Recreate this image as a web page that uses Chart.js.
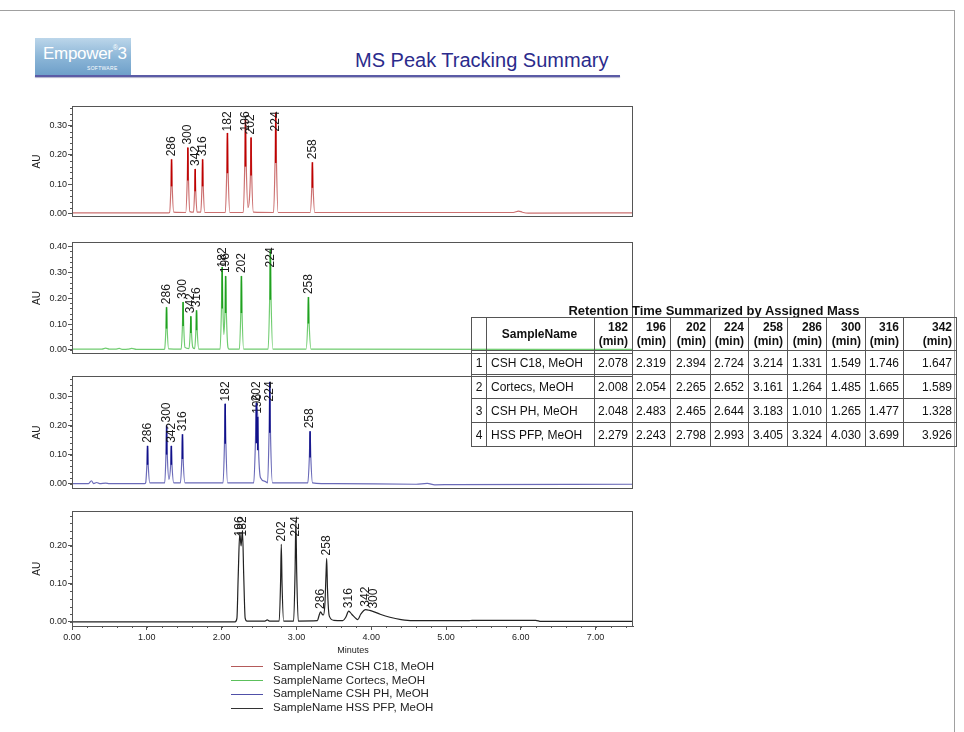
<!DOCTYPE html>
<html>
<head>
<meta charset="utf-8">
<script src="https://cdn.jsdelivr.net/npm/chart.js@4.4.0/dist/chart.umd.min.js"></script>
<style>
  body { margin: 0; background: #fff; font-family: Arial, "Liberation Sans", sans-serif; }
  #page { position: relative; width: 964px; height: 732px; overflow: hidden; }
  #frame { position: absolute; left: -2px; top: 10px; width: 956px; height: 740px;
           border-top: 1px solid #a0a0a0; border-right: 1px solid #a0a0a0; }
  #logo { position: absolute; left: 35px; top: 38px; width: 96px; height: 37px;
          background: linear-gradient(180deg, #bcd6ea 0%, #8db7d8 50%, #6e9fc9 100%); color: #fff; }
  #logo .emp { position: absolute; left: 8px; top: 6px; font-size: 17px; letter-spacing: -0.3px; }
  #logo .emp sup { font-size: 7px; vertical-align: 9px; }
  #logo .soft { position: absolute; left: 52px; top: 27px; font-size: 5px; letter-spacing: 0.3px; }
  #title { position: absolute; left: 355px; top: 49px; font-size: 20px; color: #2b2b8c; white-space: nowrap; }
  #rule { position: absolute; left: 35px; top: 75px; width: 585px; height: 2px; background: #5b5ba6;
          box-shadow: 0 1px 1px #b0b0c8; }
  .panel { position: absolute; left: 31px; }
  #minutes { position: absolute; left: 323px; width: 60px; top: 645px; text-align: center; font-size: 9px; color: #222; }
  #legend { position: absolute; left: 231px; top: 660px; font-size: 11.5px; color: #222; }
  #legend div { height: 13.7px; line-height: 13.7px; white-space: nowrap; }
  #legend span.ln { display: inline-block; width: 32px; height: 1px; vertical-align: middle; margin-right: 10px; }
  #tabTitle { position: absolute; left: 471px; width: 486px; top: 303px; text-align: center;
              font-size: 13px; font-weight: bold; color: #111; }
  #rt { position: absolute; left: 471px; top: 317px; border-collapse: collapse; table-layout: fixed;
        width: 486px; font-size: 12px; color: #111; }
  #rt td, #rt th { border: 1px solid #555; padding: 0 4px 0 2px; overflow: hidden; white-space: nowrap; }
  #rt th { height: 32px; font-weight: bold; text-align: right; line-height: 14px; }
  #rt td { height: 23px; text-align: right; }
  #rt td.idx, #rt th.idx { text-align: center; padding: 0; }
  #rt td.name { text-align: left; padding-left: 4px; }
  #rt th.name { text-align: center; }
</style>
</head>
<body>
<div id="page">
  <div id="frame"></div>
  <div id="logo"><span class="emp">Empower<sup>&reg;</sup>3</span><span class="soft">SOFTWARE</span></div>
  <div id="title">MS Peak Tracking Summary</div>
  <div id="rule"></div>

  <div class="panel" style="top:100px"><canvas id="c18" width="609" height="123"></canvas></div>
  <div class="panel" style="top:236px"><canvas id="cortecs" width="609" height="124"></canvas></div>
  <div class="panel" style="top:370px"><canvas id="cshph" width="609" height="125"></canvas></div>
  <div class="panel" style="top:505px"><canvas id="hsspfp" width="609" height="141"></canvas></div>
  <div id="minutes">Minutes</div>
  <div id="legend"></div>

  <div id="tabTitle">Retention Time Summarized by Assigned Mass</div>
  <table id="rt"></table>
</div>
<script>
// masses tracked, same order as the table columns
const masses = [182, 196, 202, 224, 258, 286, 300, 316, 342];
const sampleNames = ['CSH C18, MeOH', 'Cortecs, MeOH', 'CSH PH, MeOH', 'HSS PFP, MeOH'];

// retention times (min) per sample, in mass order
const rtC18     = [2.078, 2.319, 2.394, 2.724, 3.214, 1.331, 1.549, 1.746, 1.647];
const rtCortecs = [2.008, 2.054, 2.265, 2.652, 3.161, 1.264, 1.485, 1.665, 1.589];
const rtCshPh   = [2.048, 2.483, 2.465, 2.644, 3.183, 1.010, 1.265, 1.477, 1.328];
const rtHssPfp  = [2.279, 2.243, 2.798, 2.993, 3.405, 3.324, 4.030, 3.699, 3.926];

// peak apex heights (AU), in mass order
const apexC18     = [0.275, 0.32, 0.26, 0.345, 0.175, 0.185, 0.225, 0.185, 0.152];
const apexCortecs = [0.32, 0.285, 0.285, 0.387, 0.204, 0.165, 0.185, 0.153, 0.13];
const apexCshPh   = [0.275, 0.23, 0.278, 0.35, 0.18, 0.13, 0.2, 0.17, 0.13];
const apexHssPfp  = [0.24, 0.235, 0.204, 0.268, 0.167, 0.026, 0.027, 0.028, 0.032];

// chromatogram traces [min, AU]
const traceC18 = [
  [0.00, 0.002], [1.29, 0.002],
  [1.305, 0.003], [1.322, 0.09], [1.331, 0.185], [1.340, 0.09], [1.36, 0.004],
  [1.52, 0.003], [1.540, 0.11], [1.549, 0.225], [1.558, 0.11], [1.575, 0.006],
  [1.625, 0.004], [1.639, 0.075], [1.647, 0.152], [1.655, 0.075], [1.672, 0.004],
  [1.722, 0.004], [1.737, 0.09], [1.746, 0.185], [1.755, 0.09], [1.775, 0.003],
  [2.05, 0.003], [2.068, 0.135], [2.078, 0.275], [2.088, 0.135], [2.11, 0.003],
  [2.29, 0.003], [2.309, 0.16], [2.319, 0.32], [2.330, 0.16], [2.352, 0.02],
  [2.372, 0.05], [2.385, 0.13], [2.394, 0.26], [2.403, 0.13], [2.425, 0.004],
  [2.695, 0.003], [2.714, 0.17], [2.724, 0.345], [2.734, 0.17], [2.755, 0.003],
  [3.185, 0.003], [3.205, 0.085], [3.214, 0.175], [3.224, 0.085], [3.245, 0.003],
  [5.90, 0.003], [5.97, 0.008], [6.02, 0.004], [6.10, 0.001], [7.50, 0.002]
];
const traceCortecs = [
  [0.00, 0.003], [0.40, 0.003], [0.45, 0.007], [0.50, 0.003], [0.58, 0.003], [0.63, 0.006],
  [0.68, 0.002], [0.75, 0.003], [0.80, 0.006], [0.86, 0.002], [1.23, 0.002],
  [1.238, 0.003], [1.255, 0.08], [1.264, 0.165], [1.273, 0.08], [1.292, 0.004],
  [1.46, 0.003], [1.476, 0.09], [1.485, 0.185], [1.494, 0.09], [1.51, 0.01],
  [1.565, 0.005], [1.580, 0.065], [1.589, 0.13], [1.598, 0.065], [1.615, 0.01],
  [1.64, 0.005], [1.656, 0.075], [1.665, 0.153], [1.674, 0.075], [1.695, 0.003],
  [1.98, 0.003], [1.998, 0.16], [2.008, 0.32], [2.018, 0.16], [2.030, 0.06],
  [2.044, 0.14], [2.054, 0.285], [2.064, 0.14], [2.085, 0.01], [2.10, 0.003],
  [2.238, 0.003], [2.256, 0.14], [2.265, 0.285], [2.274, 0.14], [2.295, 0.003],
  [2.622, 0.003], [2.642, 0.19], [2.652, 0.387], [2.662, 0.19], [2.685, 0.003],
  [3.13, 0.003], [3.151, 0.1], [3.161, 0.204], [3.171, 0.1], [3.195, 0.003],
  [7.50, 0.002]
];
const traceCshPh = [
  [0.00, 0.0], [0.22, 0.0], [0.26, 0.01], [0.29, 0.0], [0.33, 0.004], [0.37, 0.0],
  [0.45, 0.002], [0.50, 0.0], [0.97, 0.0],
  [0.985, 0.003], [1.001, 0.065], [1.010, 0.13], [1.019, 0.065], [1.04, 0.003],
  [1.24, 0.003], [1.256, 0.1], [1.265, 0.2], [1.274, 0.1], [1.296, 0.015],
  [1.319, 0.065], [1.328, 0.13], [1.337, 0.065], [1.36, 0.003],
  [1.45, 0.003], [1.468, 0.085], [1.477, 0.17], [1.486, 0.085], [1.51, 0.003],
  [2.02, 0.003], [2.038, 0.135], [2.048, 0.275], [2.058, 0.135], [2.08, 0.003],
  [2.43, 0.003], [2.452, 0.14], [2.465, 0.278], [2.483, 0.23], [2.496, 0.1], [2.52, 0.02],
  [2.58, 0.008], [2.615, 0.003], [2.634, 0.17], [2.644, 0.35], [2.654, 0.17], [2.68, 0.003],
  [3.153, 0.003], [3.173, 0.09], [3.183, 0.18], [3.193, 0.09], [3.215, 0.003],
  [3.50, 0.0], [4.60, -0.002], [4.75, 0.001], [4.85, -0.004], [5.10, -0.003], [7.50, -0.002]
];
const traceHssPfp = [
  [0.00, 0.0], [2.18, 0.0], [2.205, 0.01], [2.222, 0.12], [2.243, 0.235], [2.26, 0.2],
  [2.279, 0.24], [2.296, 0.12], [2.315, 0.01], [2.34, 0.002],
  [2.58, 0.002], [2.61, 0.005], [2.64, 0.002],
  [2.77, 0.002], [2.788, 0.1], [2.798, 0.204], [2.808, 0.1], [2.83, 0.002],
  [2.963, 0.002], [2.982, 0.13], [2.993, 0.268], [3.004, 0.13], [3.025, 0.002],
  [3.28, 0.003], [3.305, 0.018], [3.324, 0.026], [3.345, 0.02], [3.36, 0.018],
  [3.382, 0.05], [3.395, 0.12], [3.405, 0.167], [3.415, 0.09], [3.44, 0.015],
  [3.50, 0.004], [3.62, 0.003], [3.66, 0.012], [3.699, 0.028], [3.74, 0.02], [3.80, 0.008],
  [3.82, 0.006], [3.86, 0.02], [3.926, 0.032], [3.98, 0.03], [4.03, 0.027], [4.12, 0.02],
  [4.25, 0.012], [4.40, 0.006], [4.55, 0.003], [5.30, 0.003], [5.35, 0.004], [6.20, 0.004],
  [6.27, 0.001], [7.50, 0.001]
];

const xTicks = [0, 1, 2, 3, 4, 5, 6, 7];
const yTicks3 = [0, 0.1, 0.2, 0.3];
const yTicks4 = [0, 0.1, 0.2, 0.3, 0.4];
const yTicks2 = [0, 0.1, 0.2];

const lineColors = ['#cc7070', '#70cc70', '#6a6ab8', '#222222'];
const markColors = ['#c00000', '#20a020', '#10108a', '#000000'];
const legendColors = ['#b45a5a', '#5cc05c', '#5050a8', '#333333'];

const FONT = 'Arial, "Liberation Sans", sans-serif';

// box round the plot area plus the small minor ticks
const framePlugin = {
  id: 'frame',
  afterDraw(chart, args, opts) {
    const { ctx, chartArea: a, scales: { x, y } } = chart;
    ctx.save();
    ctx.strokeStyle = '#555';
    ctx.lineWidth = 1;
    ctx.strokeRect(Math.round(a.left) + 0.5, Math.round(a.top) + 0.5,
                   Math.round(a.right - a.left) - 1, Math.round(a.bottom - a.top));
    ctx.beginPath();
    for (let i = 0; i * 0.02 <= y.max; i++) {
      const py = Math.round(y.getPixelForValue(i * 0.02)) + 0.5;
      ctx.moveTo(a.left - 2, py); ctx.lineTo(a.left, py);
    }
    if (opts.xMinor) {
      for (let i = 0; i * 0.2 <= x.max; i++) {
        const px = Math.round(x.getPixelForValue(i * 0.2)) + 0.5;
        ctx.moveTo(px, a.bottom); ctx.lineTo(px, a.bottom + 2);
      }
    }
    ctx.stroke();
    ctx.restore();
  }
};

// rotated mass labels over each peak, with a darker apex stroke
const peakLabelPlugin = {
  id: 'peakLabels',
  afterDatasetsDraw(chart, args, opts) {
    const { ctx, chartArea: a, scales: { x, y } } = chart;
    ctx.save();
    ctx.font = '12px ' + FONT;
    opts.times.forEach((t, i) => {
      const px = x.getPixelForValue(t);
      const top = y.getPixelForValue(opts.heights[i]);
      if (opts.mark) {
        ctx.strokeStyle = opts.mark;
        ctx.lineWidth = 1.6;
        ctx.beginPath();
        ctx.moveTo(px, top);
        ctx.lineTo(px, y.getPixelForValue(opts.heights[i] * 0.5));
        ctx.stroke();
      }
      const label = String(masses[i]);
      const w = ctx.measureText(label).width;
      const start = Math.max(top - 3, a.top + 5 + w);
      ctx.save();
      ctx.translate(px, start);
      ctx.rotate(-Math.PI / 2);
      ctx.fillStyle = '#1a1a1a';
      ctx.textAlign = 'left';
      ctx.textBaseline = 'middle';
      ctx.fillText(label, 0, 0);
      ctx.restore();
    });
    ctx.restore();
  }
};

function makePanel(id, trace, idx, rt, apex, yMin, yMax, yTicks, showX) {
  new Chart(document.getElementById(id), {
    type: 'line',
    data: {
      datasets: [{
        label: 'SampleName ' + sampleNames[idx],
        data: trace.map(p => ({ x: p[0], y: p[1] })),
        borderColor: lineColors[idx],
        borderWidth: 1.2,
        pointRadius: 0,
        cubicInterpolationMode: 'monotone',
        fill: false
      }]
    },
    options: {
      responsive: false,
      animation: false,
      devicePixelRatio: 1,
      layout: { padding: { top: 6, right: 7, bottom: showX ? 0 : 4, left: 0 } },
      plugins: {
        legend: { display: false },
        tooltip: { enabled: false },
        frame: { xMinor: showX },
        peakLabels: { times: rt, heights: apex, mark: idx < 3 ? markColors[idx] : null }
      },
      scales: {
        x: {
          type: 'linear', min: 0, max: 7.5, display: showX,
          afterBuildTicks: s => { s.ticks = xTicks.map(v => ({ value: v })); },
          afterFit: s => { s.height = showX ? 20 : 0; },
          grid: { drawOnChartArea: false, drawTicks: true, tickLength: 4, color: '#555' },
          border: { display: true, color: '#555' },
          ticks: { autoSkip: false, maxRotation: 0, padding: 2, color: '#222',
                   font: { size: 9, family: FONT }, callback: v => Number(v).toFixed(2) }
        },
        y: {
          type: 'linear', min: yMin, max: yMax,
          afterBuildTicks: s => { s.ticks = yTicks.map(v => ({ value: v })); },
          afterFit: s => { s.width = 41; },
          grid: { drawOnChartArea: false, drawTicks: true, tickLength: 4, color: '#555' },
          border: { display: true, color: '#555' },
          title: { display: true, text: 'AU', padding: 0, color: '#222', font: { size: 10, family: FONT } },
          ticks: { padding: 1, color: '#222', font: { size: 9, family: FONT },
                   callback: v => Number(v).toFixed(2) }
        }
      }
    },
    plugins: [framePlugin, peakLabelPlugin]
  });
}

makePanel('c18', traceC18, 0, rtC18, apexC18, -0.011, 0.366, yTicks3, false);
makePanel('cortecs', traceCortecs, 1, rtCortecs, apexCortecs, -0.014, 0.415, yTicks4, false);
makePanel('cshph', traceCshPh, 2, rtCshPh, apexCshPh, -0.017, 0.369, yTicks3, false);
makePanel('hsspfp', traceHssPfp, 3, rtHssPfp, apexHssPfp, -0.011, 0.291, yTicks2, true);

// legend
const legend = document.getElementById('legend');
sampleNames.forEach((name, i) => {
  const row = document.createElement('div');
  row.innerHTML = '<span class="ln" style="background:' + legendColors[i] + '"></span>SampleName ' + name;
  legend.appendChild(row);
});

// retention time table
const rtRows = [rtC18, rtCortecs, rtCshPh, rtHssPfp];
const colWidths = [15, 108, 38, 38, 40, 38, 39, 39, 39, 38, 53];
let html = '<colgroup>' + colWidths.map(w => '<col style="width:' + w + 'px">').join('') + '</colgroup>';
html += '<tr><th class="idx"></th><th class="name">SampleName</th>' +
  masses.map(m => '<th>' + m + '<br>(min)</th>').join('') + '</tr>';
rtRows.forEach((row, i) => {
  html += '<tr><td class="idx">' + (i + 1) + '</td><td class="name">' + sampleNames[i] + '</td>' +
    row.map(v => '<td>' + v.toFixed(3) + '</td>').join('') + '</tr>';
});
document.getElementById('rt').innerHTML = html;
</script>
</body>
</html>
